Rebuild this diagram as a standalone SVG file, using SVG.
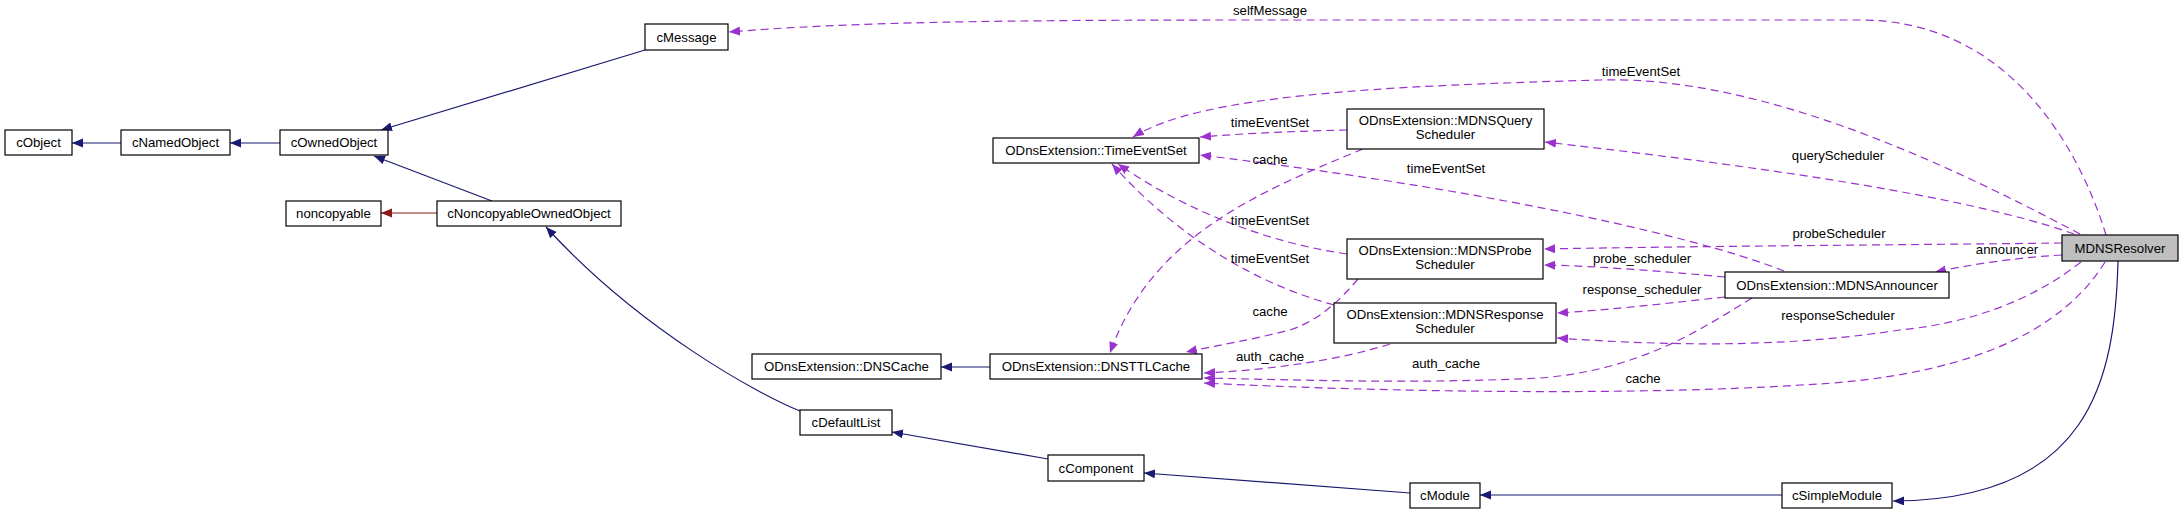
<svg xmlns="http://www.w3.org/2000/svg" width="2183" height="515" viewBox="0 0 2183 515">
<style>
  text { font-family: "Liberation Sans", Arial, sans-serif; font-size: 13.2px; fill: #000; text-anchor: middle; }
  .box { fill: #fff; stroke: #000; stroke-width: 1.2; }
  .cur { fill: #bfbfbf; stroke: #000; stroke-width: 1.2; }
  .inh { fill: none; stroke: #191970; stroke-width: 1.2; marker-end: url(#aNavy); }
  .red { fill: none; stroke: #8b1a1a; stroke-width: 1.2; marker-end: url(#aRed); }
  .use { fill: none; stroke: #9a32cd; stroke-width: 1.2; stroke-dasharray: 8,5; marker-end: url(#aPurple); }
</style>
<defs>
  <marker id="aNavy" markerUnits="userSpaceOnUse" markerWidth="12" markerHeight="10" refX="11" refY="4.5" orient="auto"><path d="M0,0 L11,4.5 L0,9 z" fill="#191970"/></marker>
  <marker id="aRed" markerUnits="userSpaceOnUse" markerWidth="12" markerHeight="10" refX="11" refY="4.5" orient="auto"><path d="M0,0 L11,4.5 L0,9 z" fill="#8b1a1a"/></marker>
  <marker id="aPurple" markerUnits="userSpaceOnUse" markerWidth="12" markerHeight="10" refX="11" refY="4.5" orient="auto"><path d="M0,0 L11,4.5 L0,9 z" fill="#9a32cd"/></marker>
</defs>
<rect width="2183" height="515" fill="#fff"/>
<g id="connectors">
  <path class="inh" d="M121,143 L72,143"/>
  <path class="inh" d="M280,143 L230,143"/>
  <path class="inh" d="M645,50 L381,130"/>
  <path class="inh" d="M492,201 L374,156"/>
  <path class="red" d="M437,213 L381,213"/>
  <path class="inh" d="M800,411 C760,395 640,330 546,227"/>
  <path class="inh" d="M1048,459 L892,432"/>
  <path class="inh" d="M1410,493 L1144,473"/>
  <path class="inh" d="M1782,495 L1480,495"/>
  <path class="inh" d="M2118,261 C2115,380 2090,500 1893,501"/>
  <path class="inh" d="M990,367 L941,367"/>

  <path class="use" d="M2106,235 C2080,150 2010,20 1860,20 L1250,20 C1000,20 850,22 729,32"/>
  <path class="use" d="M2080,234 C1950,165 1760,75 1600,80 C1380,86 1200,95 1133,137"/>
  <path class="use" d="M2074,234 C1950,190 1700,160 1545,142"/>
  <path class="use" d="M2062,243 C1900,245 1700,246 1544,249"/>
  <path class="use" d="M2062,255 C2010,258 1970,265 1935,272"/>
  <path class="use" d="M2081,262 C2020,310 1950,325 1900,330 C1800,345 1700,348 1557,338"/>
  <path class="use" d="M2105,262 C2060,335 1960,378 1800,385 C1650,395 1400,393 1204,383"/>
  <path class="use" d="M1752,298 C1700,330 1640,370 1540,378 C1420,384 1300,380 1204,378"/>
  <path class="use" d="M1725,277 C1670,272 1600,266 1544,265"/>
  <path class="use" d="M1725,297 C1670,303 1610,310 1557,313"/>
  <path class="use" d="M1784,271 C1680,230 1450,185 1200,155"/>
  <path class="use" d="M1347,130 C1300,131 1250,133 1200,137"/>
  <path class="use" d="M1363,149 C1250,195 1150,240 1110,353"/>
  <path class="use" d="M1347,254 C1250,240 1170,200 1118,164"/>
  <path class="use" d="M1334,305 C1260,285 1180,240 1112,164"/>
  <path class="use" d="M1358,279 C1340,300 1320,320 1290,330 C1250,340 1220,345 1186,352"/>
  <path class="use" d="M1390,344 C1340,360 1270,370 1204,373"/>

  <text x="1270" y="15">selfMessage</text>
  <text x="1641" y="76">timeEventSet</text>
  <text x="1270" y="127">timeEventSet</text>
  <text x="1838" y="160">queryScheduler</text>
  <text x="1270" y="164">cache</text>
  <text x="1446" y="173">timeEventSet</text>
  <text x="1270" y="225">timeEventSet</text>
  <text x="1839" y="238">probeScheduler</text>
  <text x="2007" y="254">announcer</text>
  <text x="1270" y="263">timeEventSet</text>
  <text x="1642" y="263">probe_scheduler</text>
  <text x="1642" y="294">response_scheduler</text>
  <text x="1270" y="316">cache</text>
  <text x="1838" y="320">responseScheduler</text>
  <text x="1270" y="361">auth_cache</text>
  <text x="1446" y="368">auth_cache</text>
  <text x="1643" y="383">cache</text>
</g>
<g id="cObject"><rect class="box" x="5" y="130" width="67" height="25"/><text x="38.5" y="147">cObject</text></g>
<g id="cNamedObject"><rect class="box" x="121" y="130" width="109" height="25"/><text x="175.5" y="147">cNamedObject</text></g>
<g id="cOwnedObject"><rect class="box" x="280" y="130" width="108" height="25"/><text x="334" y="147">cOwnedObject</text></g>
<g id="cMessage"><rect class="box" x="645" y="24" width="83" height="26"/><text x="686.5" y="41.5">cMessage</text></g>
<g id="noncopyable"><rect class="box" x="286" y="201" width="95" height="25"/><text x="333.5" y="218">noncopyable</text></g>
<g id="cNoncopyableOwnedObject"><rect class="box" x="437" y="201" width="184" height="25"/><text x="529" y="218">cNoncopyableOwnedObject</text></g>
<g id="DNSCache"><rect class="box" x="752" y="354" width="189" height="25"/><text x="846.5" y="371">ODnsExtension::DNSCache</text></g>
<g id="DNSTTLCache"><rect class="box" x="990" y="354" width="212" height="25"/><text x="1096" y="371">ODnsExtension::DNSTTLCache</text></g>
<g id="cDefaultList"><rect class="box" x="800" y="410" width="92" height="25"/><text x="846" y="427">cDefaultList</text></g>
<g id="cComponent"><rect class="box" x="1048" y="455" width="96" height="26"/><text x="1096" y="472.5">cComponent</text></g>
<g id="cModule"><rect class="box" x="1410" y="483" width="70" height="25"/><text x="1445" y="500">cModule</text></g>
<g id="cSimpleModule"><rect class="box" x="1782" y="483" width="110" height="25"/><text x="1837" y="500">cSimpleModule</text></g>
<g id="TimeEventSet"><rect class="box" x="993" y="138" width="206" height="25"/><text x="1096" y="155">ODnsExtension::TimeEventSet</text></g>
<g id="MDNSQueryScheduler"><rect class="box" x="1347" y="109" width="197" height="40"/><text x="1445.5" y="125">ODnsExtension::MDNSQuery</text><text x="1445.5" y="139">Scheduler</text></g>
<g id="MDNSProbeScheduler"><rect class="box" x="1347" y="239" width="196" height="40"/><text x="1445" y="255">ODnsExtension::MDNSProbe</text><text x="1445" y="269">Scheduler</text></g>
<g id="MDNSResponseScheduler"><rect class="box" x="1334" y="303" width="222" height="40"/><text x="1445" y="319">ODnsExtension::MDNSResponse</text><text x="1445" y="333">Scheduler</text></g>
<g id="MDNSAnnouncer"><rect class="box" x="1725" y="272" width="224" height="26"/><text x="1837" y="289.5">ODnsExtension::MDNSAnnouncer</text></g>
<g id="MDNSResolver"><rect class="cur" x="2062" y="235" width="116" height="26"/><text x="2120" y="252.5">MDNSResolver</text></g>
</svg>
